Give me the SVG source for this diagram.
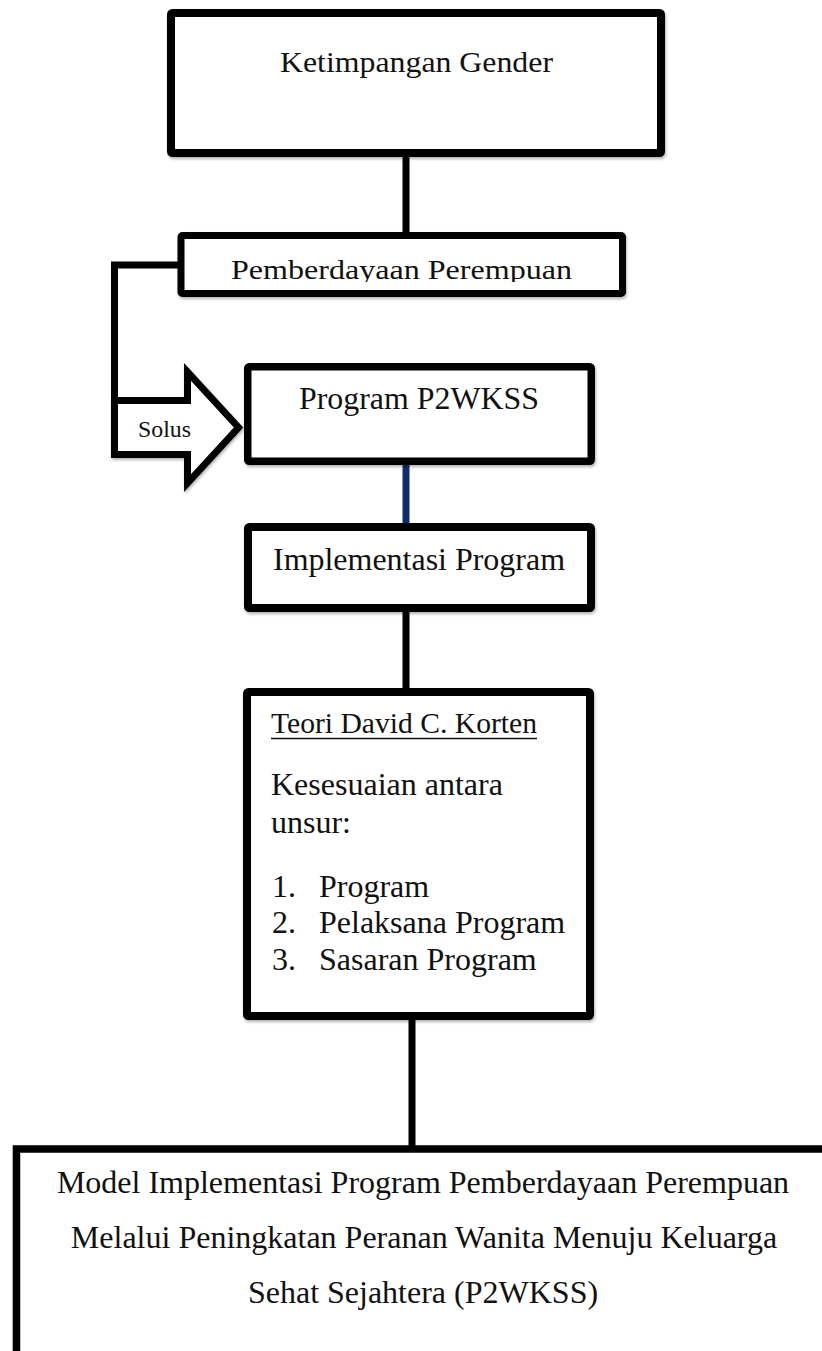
<svg xmlns="http://www.w3.org/2000/svg" width="822" height="1351" viewBox="0 0 822 1351">
  <style>
    .box { fill: #ffffff; stroke: #000000; stroke-width: 8; filter: url(#shadow); }
    .conn { stroke: #000000; stroke-width: 7; fill: none; }
    .t { font-family: "Liberation Serif", "Times New Roman", serif; fill: #111111; }
  </style>
  <defs>
    <filter id="shadow" x="-10%" y="-10%" width="120%" height="130%">
      <feDropShadow dx="1" dy="2" stdDeviation="1.5" flood-color="#000000" flood-opacity="0.3"/>
    </filter>
    <clipPath id="clipPem">
      <rect x="180" y="236" width="444" height="46"/>
    </clipPath>
  </defs>
  <rect x="0" y="0" width="822" height="1351" fill="#ffffff"/>

  <g id="connectors">
    <line class="conn" x1="406" y1="153" x2="406" y2="236"/>
    <line class="conn" x1="406" y1="462" x2="406" y2="527" stroke="#0f2c6b" style="stroke:#0f2c6b"/>
    <line class="conn" x1="406" y1="608" x2="406" y2="692"/>
    <line class="conn" x1="412" y1="1016" x2="412" y2="1149"/>
    <path class="conn" d="M 181 265 H 114.5 V 402" stroke-linejoin="miter"/>
  </g>

  <g id="node-ketimpangan">
    <rect class="box" x="171" y="13" width="490" height="140" rx="1.5"/>
    <text class="t" x="280" y="72" font-size="29" textLength="273" lengthAdjust="spacingAndGlyphs">Ketimpangan Gender</text>
  </g>

  <g id="node-pemberdayaan">
    <rect class="box" x="181" y="235.5" width="441.5" height="58" rx="1.5" style="stroke-width:7"/>
    <text class="t" x="231" y="279" font-size="27" textLength="341" lengthAdjust="spacingAndGlyphs" clip-path="url(#clipPem)">Pemberdayaan Perempuan</text>
  </g>

  <g id="node-solusi">
    <polygon points="114.5,400.5 187.5,400.5 187.5,372 238.5,427.5 187.5,483 187.5,454.5 114.5,454.5" fill="#ffffff" stroke="#000000" stroke-width="7" stroke-linejoin="miter" filter="url(#shadow)"/>
    <text class="t" x="138" y="437" font-size="23" textLength="53" lengthAdjust="spacingAndGlyphs">Solus</text>
  </g>

  <g id="node-program">
    <rect class="box" x="247.75" y="366.75" width="343.5" height="94.5" rx="1.5" style="stroke-width:7.5"/>
    <text class="t" x="299" y="409" font-size="32" textLength="240" lengthAdjust="spacingAndGlyphs">Program P2WKSS</text>
  </g>

  <g id="node-implementasi">
    <rect class="box" x="248" y="527" width="343" height="81" rx="1.5"/>
    <text class="t" x="273" y="570" font-size="32" textLength="292" lengthAdjust="spacingAndGlyphs">Implementasi Program</text>
  </g>

  <g id="node-teori">
    <rect class="box" x="247" y="692" width="343" height="324" rx="1.5"/>
    <text class="t" x="271" y="733" font-size="29.5" textLength="266" lengthAdjust="spacingAndGlyphs">Teori David C. Korten</text>
    <line x1="271" y1="738.5" x2="537" y2="738.5" stroke="#111111" stroke-width="1.5"/>
    <text class="t" x="271" y="795" font-size="32">Kesesuaian antara</text>
    <text class="t" x="271" y="833" font-size="32">unsur:</text>
    <text class="t" x="272" y="897" font-size="32">1.</text>
    <text class="t" x="319" y="897" font-size="32">Program</text>
    <text class="t" x="272" y="933" font-size="32">2.</text>
    <text class="t" x="319" y="933" font-size="32">Pelaksana Program</text>
    <text class="t" x="272" y="970" font-size="32">3.</text>
    <text class="t" x="319" y="970" font-size="32">Sasaran Program</text>
  </g>

  <g id="node-model">
    <rect class="box" x="16.5" y="1149" width="900" height="400" style="stroke-width:7.5"/>
    <text class="t" x="423" y="1193" font-size="32" text-anchor="middle">Model Implementasi Program Pemberdayaan Perempuan</text>
    <text class="t" x="424" y="1248" font-size="32" text-anchor="middle">Melalui Peningkatan Peranan Wanita Menuju Keluarga</text>
    <text class="t" x="423" y="1303" font-size="32" text-anchor="middle">Sehat Sejahtera (P2WKSS)</text>
  </g>
</svg>
